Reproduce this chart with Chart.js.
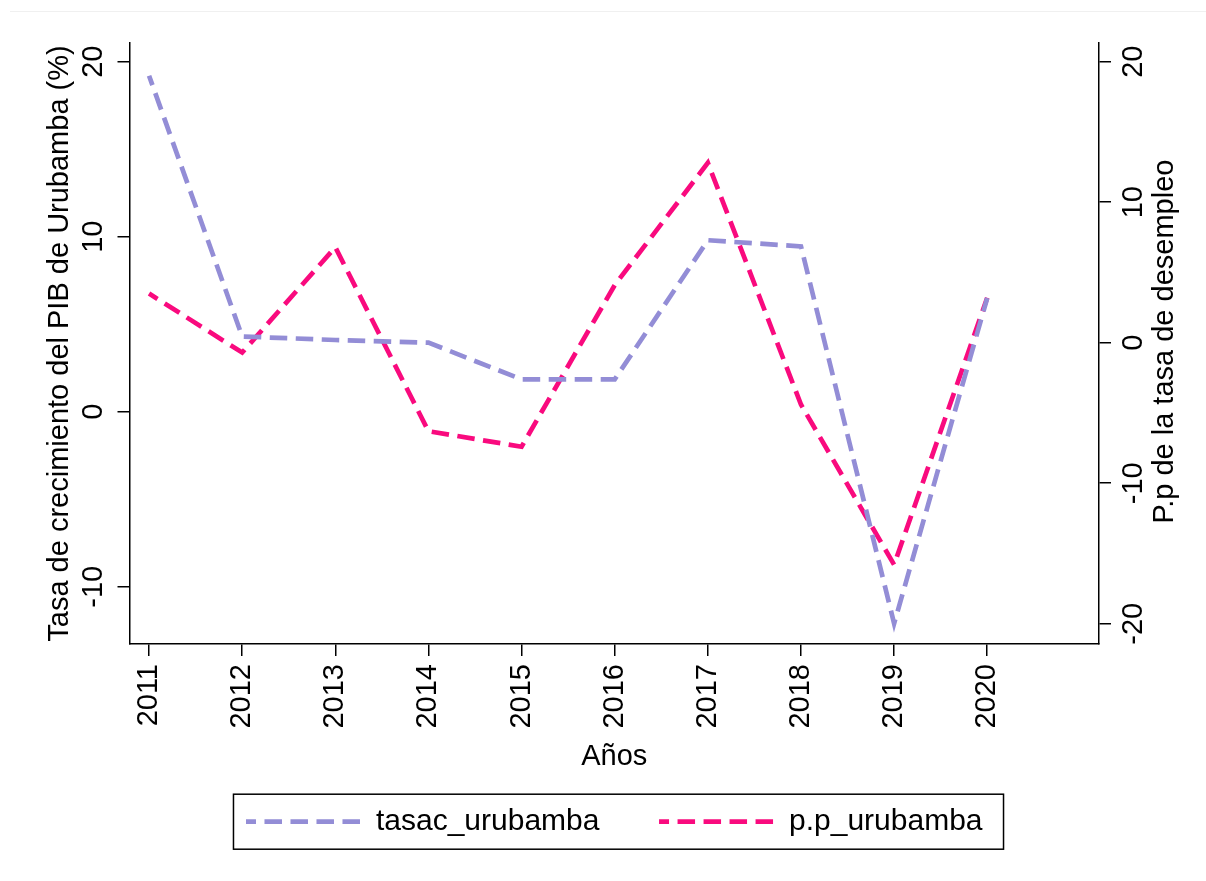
<!DOCTYPE html>
<html>
<head>
<meta charset="utf-8">
<script src="https://cdn.jsdelivr.net/npm/chart.js@4.4.1/dist/chart.umd.min.js"></script>
<style>
  body { margin: 0; background: #fff; }
  #wrap { position: relative; width: 1206px; height: 881px; }
  #topline { position: absolute; top: 11px; left: 10px; right: 0; border-top: 1px solid #f0f0f0; }
</style>
</head>
<body>
<div id="wrap">
  <div id="topline"></div>
  <canvas id="grafico"></canvas>
</div>
<script>
'use strict';

// datos del grafico
let years = [2011, 2012, 2013, 2014, 2015, 2016, 2017, 2018, 2019, 2020];
let tasacUrubamba = [19.2, 4.3, 4.1, 3.95, 1.85, 1.85, 9.8, 9.45, -12.1, 6.5];
let ppUrubamba = [3.5, -0.7, 6.8, -6.3, -7.4, 4.1, 12.8, -4.4, -15.8, 3.2];

let leftTicks = [-10, 0, 10, 20];
let rightTicks = [-20, -10, 0, 10, 20];

let seriesNames = ['tasac_urubamba', 'p.p_urubamba'];
let leftTitle = 'Tasa de crecimiento del PIB de Urubamba (%)';
let rightTitleText = 'P.p de la tasa de desempleo';
let xTitle = 'Años';

// estilos
let fontFamily = '"Liberation Sans", Arial, Helvetica, sans-serif';
let purple = '#938dd6';
let pink = '#f90a7e';
let dash = [17.5, 8.5];

function toPoints(values) {
    return years.map((yr, i) => ({ x: yr, y: values[i] }));
}

// borde alrededor de la leyenda
let legendBorder = {
    id: 'legendBorder',
    afterDraw(chart) {
        let boxes = chart.legend.legendHitBoxes;
        if (!boxes || !boxes.length) return;
        let first = boxes[0];
        let last = boxes[boxes.length - 1];
        let midY = first.top + first.height / 2;
        let left = first.left - 12.5;
        let right = last.left + last.width + 21;
        let ctx = chart.ctx;
        ctx.save();
        ctx.strokeStyle = '#000';
        ctx.lineWidth = 1.5;
        ctx.strokeRect(left, midY - 27.5, right - left, 55);
        ctx.restore();
    }
};

// titulo del eje derecho (se lee de abajo hacia arriba)
let rightTitle = {
    id: 'rightTitle',
    afterDraw(chart) {
        let area = chart.chartArea;
        let ctx = chart.ctx;
        ctx.save();
        ctx.translate(chart.scales.y1.right - 41, (area.top + area.bottom) / 2 - 2);
        ctx.rotate(-Math.PI / 2);
        ctx.font = '29px ' + fontFamily;
        ctx.fillStyle = '#000';
        ctx.textAlign = 'center';
        ctx.textBaseline = 'middle';
        ctx.fillText(rightTitleText, 0, 0);
        ctx.restore();
    }
};

let axisFont = { family: fontFamily, size: 29 };
let gridOpts = { display: true, drawOnChartArea: false, drawTicks: true, tickLength: 12, color: '#000', lineWidth: 1.5 };
let borderOpts = { display: true, color: '#000', width: 1.5 };

let ctx = document.getElementById('grafico').getContext('2d');
new Chart(ctx, {
    type: 'line',
    data: {
        datasets: [
            {
                label: seriesNames[0],
                data: toPoints(tasacUrubamba),
                yAxisID: 'y',
                borderColor: purple,
                backgroundColor: purple,
                borderWidth: 4.7,
                borderDash: dash,
                borderDashOffset: 7.5,
                pointRadius: 0,
                tension: 0,
                fill: false
            },
            {
                label: seriesNames[1],
                data: toPoints(ppUrubamba),
                yAxisID: 'y1',
                borderColor: pink,
                backgroundColor: pink,
                borderWidth: 4.7,
                borderDash: dash,
                borderDashOffset: 7.5,
                pointRadius: 0,
                tension: 0,
                fill: false
            }
        ]
    },
    options: {
        responsive: true,
        maintainAspectRatio: false,
        animation: false,
        devicePixelRatio: 1,
        layout: { padding: { top: 43, left: 0, right: 0, bottom: 34.3 } },
        plugins: {
            tooltip: { enabled: false },
            legend: {
                position: 'bottom',
                fullSize: false,
                labels: {
                    usePointStyle: true,
                    pointStyle: 'line',
                    pointStyleWidth: 115,
                    padding: 59.6,
                    color: '#000',
                    font: { family: fontFamily, size: 30 },
                    // la linea de la leyenda tambien va punteada
                    generateLabels: chart => {
                        let items = Chart.defaults.plugins.legend.labels.generateLabels(chart);
                        items.forEach(item => {
                            let ds = chart.data.datasets[item.datasetIndex];
                            item.lineDash = ds.borderDash;
                            item.lineDashOffset = ds.borderDashOffset;
                            item.lineWidth = ds.borderWidth;
                            item.strokeStyle = ds.borderColor;
                        });
                        return items;
                    }
                }
            }
        },
        scales: {
            x: {
                type: 'linear',
                min: 2010.79,
                max: 2021.2,
                afterBuildTicks: s => { s.ticks = years.map(v => ({ value: v })); },
                afterFit: s => { s.height = 103.1; },
                border: borderOpts,
                grid: gridOpts,
                ticks: {
                    minRotation: 90,
                    maxRotation: 90,
                    autoSkip: false,
                    padding: 8,
                    color: '#000',
                    font: axisFont,
                    callback: v => String(v)
                },
                title: {
                    display: true,
                    text: xTitle,
                    color: '#000',
                    font: axisFont,
                    padding: { top: 0, bottom: -26.8 }
                }
            },
            y: {
                position: 'left',
                min: -13.27,
                max: 21.07,
                afterBuildTicks: s => { s.ticks = leftTicks.map(v => ({ value: v })); },
                afterFit: s => { s.width = 129.5; },
                border: borderOpts,
                grid: gridOpts,
                ticks: {
                    minRotation: 90,
                    maxRotation: 90,
                    crossAlign: 'center',
                    autoSkip: false,
                    padding: 2.5,
                    color: '#000',
                    font: axisFont
                },
                title: {
                    display: true,
                    text: leftTitle,
                    color: '#000',
                    font: axisFont,
                    padding: { top: 42.6, bottom: 0 }
                }
            },
            y1: {
                position: 'right',
                min: -21.44,
                max: 21.33,
                afterBuildTicks: s => { s.ticks = rightTicks.map(v => ({ value: v })); },
                afterFit: s => { s.width = 107; },
                border: borderOpts,
                grid: gridOpts,
                ticks: {
                    minRotation: 90,
                    maxRotation: 90,
                    crossAlign: 'center',
                    autoSkip: false,
                    padding: 2.5,
                    color: '#000',
                    font: axisFont
                }
            }
        }
    },
    plugins: [legendBorder, rightTitle]
});
</script>
</body>
</html>
